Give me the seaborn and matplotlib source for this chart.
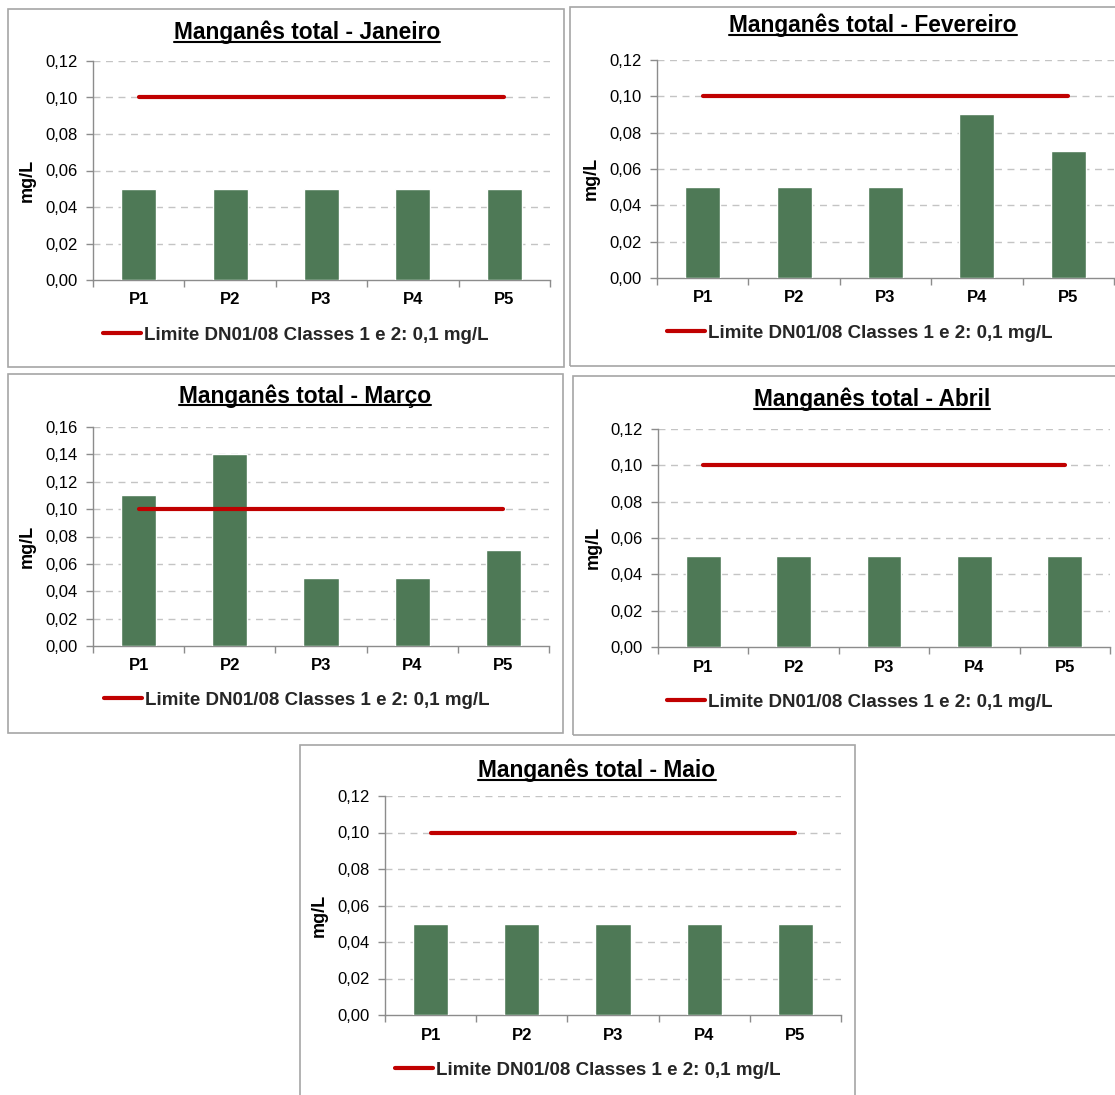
import numpy as np
import pandas as pd
import matplotlib
matplotlib.use("Agg")
import matplotlib.pyplot as plt
from matplotlib.patches import Rectangle
from matplotlib.lines import Line2D
from matplotlib.ticker import FuncFormatter, FixedLocator
import seaborn as sns

# ---- data -------------------------------------------------------------
points = ["P1", "P2", "P3", "P4", "P5"]
months = ["Janeiro", "Fevereiro", "Março", "Abril", "Maio"]
mn_janeiro = [0.05, 0.05, 0.05, 0.05, 0.05]
mn_fevereiro = [0.05, 0.05, 0.05, 0.09, 0.07]
mn_marco = [0.11, 0.14, 0.05, 0.05, 0.07]
mn_abril = [0.05, 0.05, 0.05, 0.05, 0.05]
mn_maio = [0.05, 0.05, 0.05, 0.05, 0.05]
limit_value = 0.1
limit_label = "Limite DN01/08 Classes 1 e 2: 0,1 mg/L"
y_max = [0.12, 0.12, 0.16, 0.12, 0.12]
y_label = "mg/L"
title_prefix = "Manganês total - "

series = [mn_janeiro, mn_fevereiro, mn_marco, mn_abril, mn_maio]

# ---- style ------------------------------------------------------------
sns.set_theme(style="white")
plt.rcParams["font.family"] = ["Liberation Sans", "DejaVu Sans"]

BAR = "#4E7956"
RED = "#C00000"
GRID = "#C4C4C4"
AXIS = "#8C8C8C"
FRAME = "#A6A6A6"

W, H = 1115, 1095
fig = plt.figure(figsize=(W / 100, H / 100), dpi=100)
fig.patch.set_facecolor("white")


def fx(px):
    return px / W


def fy(py):
    return 1 - py / H


# panel layout in pixels: frame box, axes box, title (center x, baseline y), legend start
layout = [
    dict(frame=(8, 9, 564, 367), axes=(93, 61, 550, 280), title=(307, 39), legend=(103, 335)),
    dict(frame=(570, 7, 1125, 366), axes=(657, 60, 1114, 278), title=(873, 32), legend=(667, 333)),
    dict(frame=(8, 374, 563, 733), axes=(93, 427, 549, 646), title=(305, 403), legend=(104, 700)),
    dict(frame=(573, 376, 1125, 735), axes=(658, 429, 1110, 647), title=(872, 406), legend=(667, 702)),
    dict(frame=(300, 745, 855, 1105), axes=(385, 796, 841, 1015), title=(597, 777), legend=(395, 1070)),
]

titles = []
for vals, month, ymax, lay in zip(series, months, y_max, layout):
    # frame around each chart
    x0, y0, x1, y1 = lay["frame"]
    fig.patches.append(Rectangle((fx(x0), fy(y1)), fx(x1 - x0), (y1 - y0) / H,
                                 transform=fig.transFigure, fill=False,
                                 edgecolor=FRAME, linewidth=1.2, zorder=0))

    ax0, ay0, ax1, ay1 = lay["axes"]
    ax = fig.add_axes([fx(ax0), fy(ay1), fx(ax1 - ax0), (ay1 - ay0) / H])
    ax.set_facecolor("none")

    df = pd.DataFrame({"ponto": points, "valor": vals})
    sns.barplot(data=df, x="ponto", y="valor", color=BAR, saturation=1,
                width=0.385, ax=ax, zorder=3)
    limit_df = pd.DataFrame({"pos": np.arange(len(points)),
                             "lim": [limit_value] * len(points)})
    sns.lineplot(data=limit_df, x="pos", y="lim", color=RED, linewidth=3.0,
                 ax=ax, zorder=4, label=limit_label, solid_capstyle="round")

    ax.set_xlim(-0.5, len(points) - 0.5)
    ax.set_ylim(0, ymax)
    ticks = np.round(np.arange(0, ymax + 1e-9, 0.02), 2)
    ax.yaxis.set_major_locator(FixedLocator(ticks))
    ax.yaxis.set_major_formatter(FuncFormatter(lambda v, p: f"{v:.2f}".replace(".", ",")))
    ax.set_xticks(np.arange(len(points)))
    ax.set_xticklabels(points, fontweight="bold", fontsize=12)
    ax.set_xticks(np.arange(-0.5, len(points)), minor=True)
    ax.tick_params(axis="x", which="major", length=0, pad=9)
    ax.tick_params(axis="x", which="minor", length=5, width=1, color=AXIS, direction="out")
    ax.tick_params(axis="y", which="major", length=5, width=1, color=AXIS,
                   direction="out", pad=6, labelsize=12, labelcolor="black")
    ax.tick_params(axis="x", labelcolor="black")
    ax.xaxis.set_ticks_position("bottom")
    ax.yaxis.set_ticks_position("left")

    for t in ticks[1:]:
        ax.axhline(t, color=GRID, linewidth=1.0, linestyle=(0, (5, 4)), zorder=1)

    for side in ("top", "right"):
        ax.spines[side].set_visible(False)
    for side in ("left", "bottom"):
        ax.spines[side].set_color(AXIS)
        ax.spines[side].set_linewidth(1.0)
    ax.set_xlabel("")
    ax.set_ylabel(y_label, fontsize=13, fontweight="bold", color="black")
    ax.yaxis.set_label_coords(-0.125, 0.455)
    ax.grid(False)

    # legend below the chart
    lx, ly = lay["legend"]
    ax.legend(loc="center left", bbox_to_anchor=(fx(lx), fy(ly)),
              bbox_transform=fig.transFigure, frameon=False,
              prop={"weight": "bold", "size": 13.5}, handlelength=2.0,
              handletextpad=0.2, borderpad=0, borderaxespad=0)

    tx, ty = lay["title"]
    t = fig.text(fx(tx), fy(ty), title_prefix + month, ha="center", va="baseline",
                 fontsize=16.4, fontweight="bold", color="black")
    titles.append((t, ty))

# underline the titles
fig.canvas.draw()
renderer = fig.canvas.get_renderer()
for t, ty in titles:
    bb = t.get_window_extent(renderer)
    yl = fy(ty + 2.5)
    fig.lines.append(Line2D([bb.x0 / W, bb.x1 / W], [yl, yl], transform=fig.transFigure,
                            color="black", linewidth=1.5))

fig.savefig("out.png", dpi=100, facecolor="white")
